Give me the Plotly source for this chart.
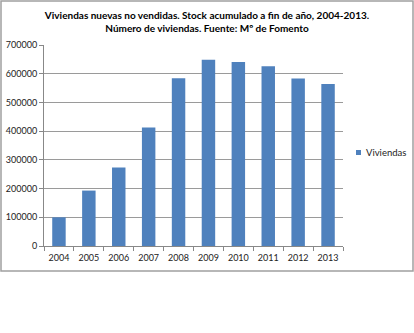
import plotly.graph_objects as go

years = ["2004", "2005", "2006", "2007", "2008", "2009", "2010", "2011", "2012", "2013"]
viviendas = [100000, 193000, 273000, 413000, 584000, 649000, 641000, 626000, 583000, 564000]
y_ticks = [0, 100000, 200000, 300000, 400000, 500000, 600000, 700000]
series_name = "Viviendas"
bar_color = "#4F81BD"

title_text = ("<b>Viviendas nuevas no vendidas. Stock acumulado a fin de año, 2004-2013.<br>"
              "Número de viviendas. Fuente: Mº de Fomento</b>")

fig = go.Figure()
fig.add_trace(go.Bar(
    x=years, y=viviendas, name=series_name,
    marker=dict(color=bar_color, line=dict(width=0)),
    width=0.45, showlegend=False,
))

# plot area: x 44..343 px, y 45..246 px
PW, PH = 299, 201
def px_x(p):
    return (p - 44) / PW
def px_y(p):
    return (246 - p) / PH

fig.update_layout(
    width=414, height=333,
    margin=dict(l=44, r=71, t=45, b=87, autoexpand=False),
    paper_bgcolor="white", plot_bgcolor="white",
    font=dict(family="Lato, Liberation Sans, sans-serif", size=9, color="#222222"),
    title=dict(text=title_text, x=0.5, xref="container", xanchor="center",
               y=0.943, yref="container", yanchor="middle",
               font=dict(size=10, color="#000000")),
    showlegend=False,
    shapes=[
        dict(type="rect", xref="paper", yref="paper",
             x0=px_x(1), x1=px_x(413), y0=px_y(271), y1=px_y(1),
             line=dict(color="#A0A0A0", width=1.5), fillcolor="rgba(0,0,0,0)", layer="below"),
        # legend key
        dict(type="rect", xref="paper", yref="paper",
             x0=px_x(356), x1=px_x(361), y0=px_y(155), y1=px_y(150),
             line=dict(width=0), fillcolor=bar_color),
    ],
    annotations=[
        dict(text=series_name, xref="paper", yref="paper",
             x=px_x(364), y=px_y(152.5), xanchor="left", yanchor="middle",
             showarrow=False, font=dict(size=9.5, color="#222222")),
    ],
)
fig.update_xaxes(
    type="category", showgrid=False, showline=True, linecolor="#888888", linewidth=1,
    ticks="outside", tickson="boundaries", ticklen=4, tickcolor="#888888",
    tickfont=dict(size=9), tickangle=0, automargin=False, ticklabelstandoff=3,
)
fig.update_yaxes(
    range=[0, 700000], tickvals=y_ticks, ticktext=[str(v) for v in y_ticks],
    showgrid=True, gridcolor="#9A9A9A", gridwidth=1,
    showline=True, linecolor="#888888", linewidth=1,
    ticks="outside", ticklen=4, tickcolor="#888888", zeroline=False,
    tickfont=dict(size=9), automargin=False,
)

fig.write_html("out.html")
